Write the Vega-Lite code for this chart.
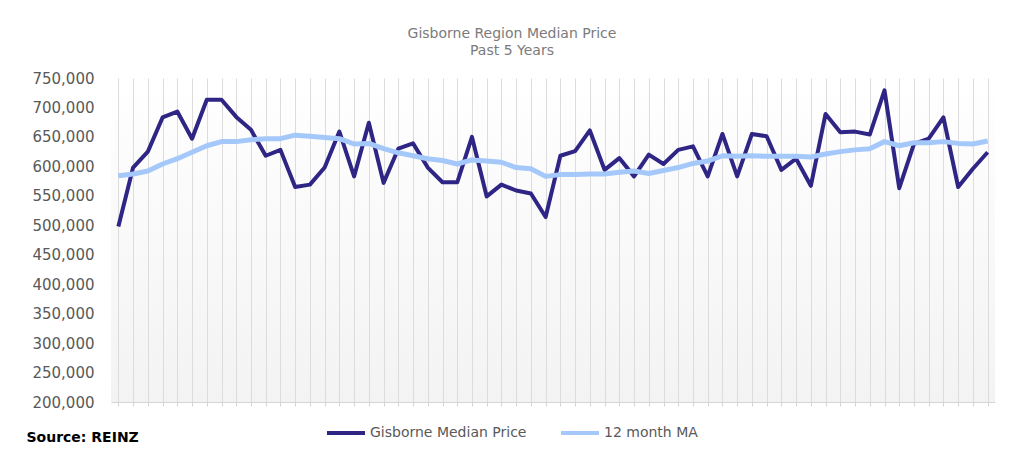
{
  "$schema": "https://vega.github.io/schema/vega-lite/v6.json",
  "autosize": "none",
  "width": 884,
  "height": 324,
  "padding": {"left": 111, "top": 78, "right": 34, "bottom": 67},
  "background": "#ffffff",
  "title": {
    "text": ["Gisborne Region Median Price", "Past 5 Years"],
    "anchor": "middle",
    "dx": -41,
    "offset": 13,
    "font": "DejaVu Sans",
    "fontSize": 14,
    "fontWeight": "normal",
    "color": "#7b7b7b",
    "lineHeight": 17
  },
  "data": {
    "values": [
      {"month": "2019-01", "median": 498000, "ma": 584000},
      {"month": "2019-02", "median": 598000, "ma": 587000},
      {"month": "2019-03", "median": 625000, "ma": 592000},
      {"month": "2019-04", "median": 683000, "ma": 604000},
      {"month": "2019-05", "median": 693000, "ma": 613000},
      {"month": "2019-06", "median": 647000, "ma": 624000},
      {"month": "2019-07", "median": 713000, "ma": 635000},
      {"month": "2019-08", "median": 713000, "ma": 642000},
      {"month": "2019-09", "median": 684000, "ma": 642000},
      {"month": "2019-10", "median": 662000, "ma": 645000},
      {"month": "2019-11", "median": 618000, "ma": 647000},
      {"month": "2019-12", "median": 628000, "ma": 647000},
      {"month": "2020-01", "median": 565000, "ma": 653000},
      {"month": "2020-02", "median": 569000, "ma": 651000},
      {"month": "2020-03", "median": 598000, "ma": 649000},
      {"month": "2020-04", "median": 659000, "ma": 647000},
      {"month": "2020-05", "median": 583000, "ma": 638000},
      {"month": "2020-06", "median": 674000, "ma": 639000},
      {"month": "2020-07", "median": 572000, "ma": 630000},
      {"month": "2020-08", "median": 630000, "ma": 623000},
      {"month": "2020-09", "median": 639000, "ma": 618000},
      {"month": "2020-10", "median": 598000, "ma": 613000},
      {"month": "2020-11", "median": 573000, "ma": 610000},
      {"month": "2020-12", "median": 573000, "ma": 604000},
      {"month": "2021-01", "median": 650000, "ma": 611000},
      {"month": "2021-02", "median": 549000, "ma": 609000},
      {"month": "2021-03", "median": 569000, "ma": 607000},
      {"month": "2021-04", "median": 559000, "ma": 598000},
      {"month": "2021-05", "median": 554000, "ma": 596000},
      {"month": "2021-06", "median": 514000, "ma": 583000},
      {"month": "2021-07", "median": 618000, "ma": 586000},
      {"month": "2021-08", "median": 626000, "ma": 586000},
      {"month": "2021-09", "median": 661000, "ma": 587000},
      {"month": "2021-10", "median": 594000, "ma": 587000},
      {"month": "2021-11", "median": 614000, "ma": 590000},
      {"month": "2021-12", "median": 583000, "ma": 592000},
      {"month": "2022-01", "median": 620000, "ma": 588000},
      {"month": "2022-02", "median": 604000, "ma": 593000},
      {"month": "2022-03", "median": 628000, "ma": 598000},
      {"month": "2022-04", "median": 634000, "ma": 605000},
      {"month": "2022-05", "median": 583000, "ma": 609000},
      {"month": "2022-06", "median": 655000, "ma": 618000},
      {"month": "2022-07", "median": 583000, "ma": 617000},
      {"month": "2022-08", "median": 655000, "ma": 618000},
      {"month": "2022-09", "median": 651000, "ma": 617000},
      {"month": "2022-10", "median": 594000, "ma": 617000},
      {"month": "2022-11", "median": 613000, "ma": 617000},
      {"month": "2022-12", "median": 567000, "ma": 616000},
      {"month": "2023-01", "median": 689000, "ma": 621000},
      {"month": "2023-02", "median": 658000, "ma": 625000},
      {"month": "2023-03", "median": 659000, "ma": 628000},
      {"month": "2023-04", "median": 654000, "ma": 630000},
      {"month": "2023-05", "median": 729000, "ma": 642000},
      {"month": "2023-06", "median": 563000, "ma": 635000},
      {"month": "2023-07", "median": 638000, "ma": 640000},
      {"month": "2023-08", "median": 647000, "ma": 640000},
      {"month": "2023-09", "median": 683000, "ma": 642000},
      {"month": "2023-10", "median": 565000, "ma": 639000},
      {"month": "2023-11", "median": 596000, "ma": 638000},
      {"month": "2023-12", "median": 624000, "ma": 643000}
    ]
  },
  "layer": [
    {
      "mark": {"type": "line", "strokeWidth": 4, "strokeJoin": "round"},
      "encoding": {
        "x": {
          "field": "month", "type": "ordinal", "sort": null,
          "scale": {"paddingInner": 0, "paddingOuter": 0},
          "axis": {
            "orient": "bottom", "grid": true, "gridColor": "#dcdcdc", "gridWidth": 1,
            "ticks": false, "domain": false, "labels": false, "title": null,
            "bandPosition": 0.5
          }
        },
        "y": {
          "field": "median", "type": "quantitative",
          "scale": {"domain": [200000, 750000], "nice": false, "zero": false},
          "axis": {"title": null, "format": ",.0f"}
        },
        "color": {
          "datum": "Gisborne Median Price", "type": "nominal",
          "scale": {
            "domain": ["Gisborne Median Price", "12 month MA"],
            "range": ["#2e2585", "#a5c8fb"]
          },
          "legend": {
            "orient": "none", "legendX": 214, "legendY": 334,
            "direction": "horizontal", "title": null,
            "symbolType": "stroke", "symbolSize": 1444, "symbolStrokeWidth": 4,
            "labelFont": "DejaVu Sans", "labelFontSize": 14, "labelColor": "#595959",
            "labelOffset": 3, "columnPadding": 26
          }
        }
      }
    },
    {
      "mark": {"type": "line", "strokeWidth": 5, "strokeJoin": "round"},
      "encoding": {
        "x": {
          "field": "month", "type": "ordinal", "sort": null,
          "scale": {"paddingInner": 0, "paddingOuter": 0},
          "axis": {
            "orient": "bottom", "grid": false, "labels": false,
            "ticks": true, "tickSize": 4, "tickColor": "#d6d6d6",
            "domain": true, "domainColor": "#d6d6d6", "bandPosition": 0,
            "title": "Source: REINZ", "titleAnchor": "start", "titleAlign": "left",
            "titleX": -85, "titleY": 39, "titleBaseline": "alphabetic",
            "titleFont": "DejaVu Sans", "titleFontSize": 14, "titleFontWeight": "bold",
            "titleColor": "#000000"
          }
        },
        "y": {
          "field": "ma", "type": "quantitative",
          "scale": {"domain": [200000, 750000], "nice": false, "zero": false},
          "axis": {"title": null, "format": ",.0f"}
        },
        "color": {"datum": "12 month MA", "type": "nominal"}
      }
    }
  ],
  "resolve": {"axis": {"x": "independent"}},
  "config": {
    "view": {
      "stroke": null,
      "fill": {
        "gradient": "linear", "x1": 0, "y1": 0, "x2": 0, "y2": 1,
        "stops": [{"offset": 0, "color": "#ffffff"}, {"offset": 1, "color": "#f3f3f3"}]
      }
    },
    "axisY": {
      "domain": false, "ticks": false, "grid": false,
      "values": [200000, 250000, 300000, 350000, 400000, 450000, 500000, 550000, 600000, 650000, 700000, 750000],
      "labelPadding": 17,
      "labelFont": "DejaVu Sans", "labelFontSize": 15, "labelColor": "#595959"
    }
  }
}
